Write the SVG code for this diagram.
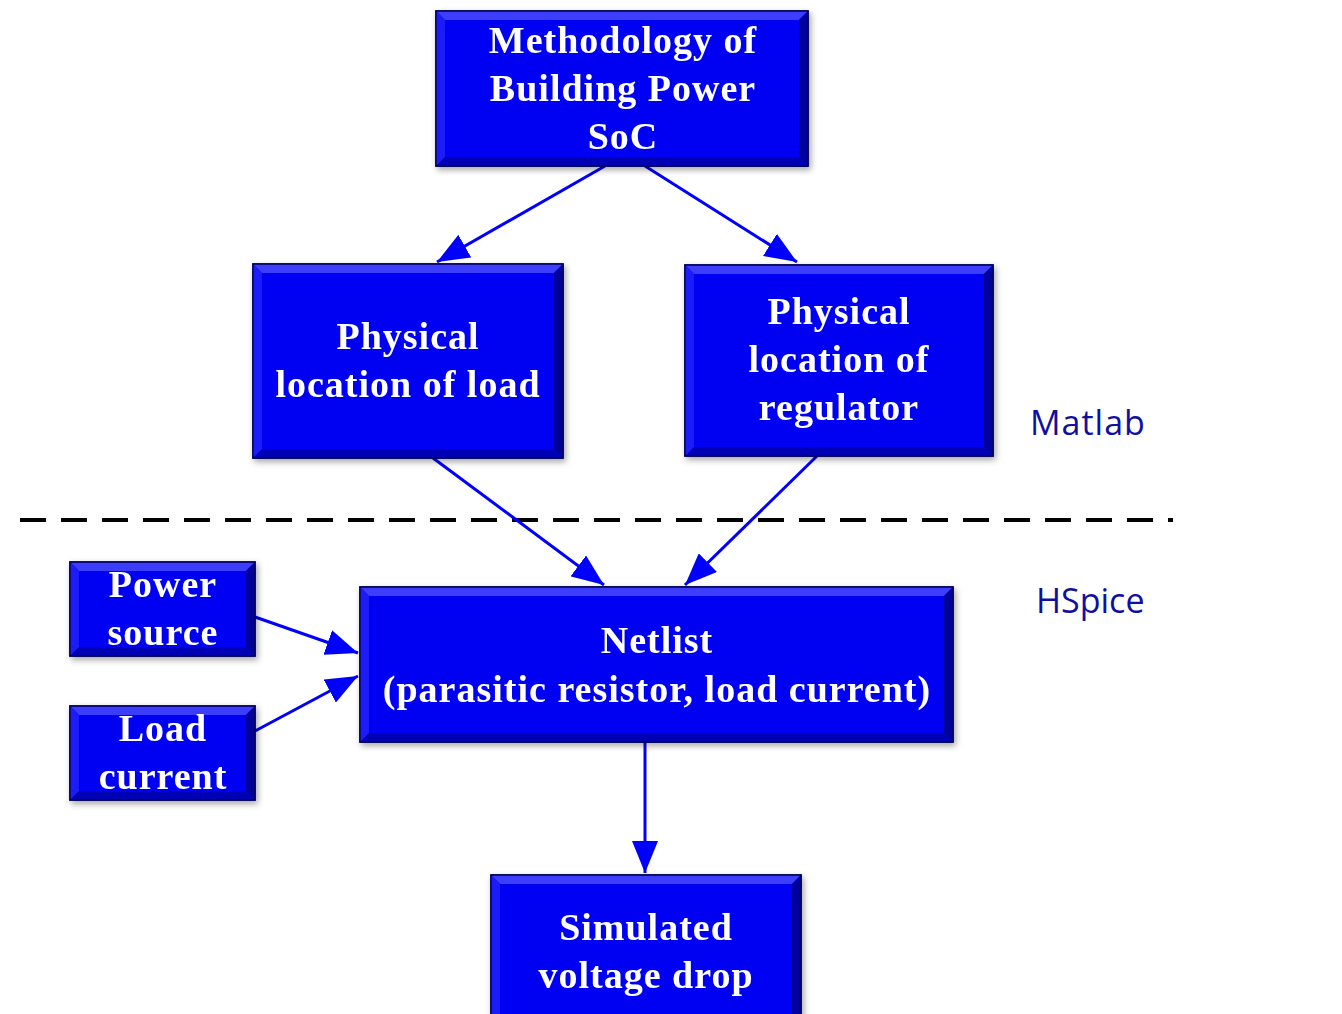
<svg xmlns="http://www.w3.org/2000/svg" width="1342" height="1014" viewBox="0 0 1342 1014">
<defs>
<style>
.bg{fill:#0606f2;stroke:#00005a;stroke-width:1.5}
.bt{fill:#3c3cfc}
.bl{fill:#1c1cfa}
.br{fill:#00009a}
.bb{fill:#0000b4}
.lbl{font-family:"Liberation Serif","Times New Roman",serif;font-weight:bold;font-size:38px;letter-spacing:1px;fill:#ffffff;text-anchor:middle}
.side{font-family:"Open Sans","Noto Sans",sans-serif;font-size:34px;fill:#1010a0}
.conn{stroke:#0000ff;stroke-width:3;fill:none;marker-end:url(#ah)}
</style>
<marker id="ah" markerUnits="userSpaceOnUse" markerWidth="32" markerHeight="26" refX="32" refY="13" orient="auto">
<path d="M0,0 L32,13 L0,26 z" fill="#0000ff"/>
</marker>
<filter id="sh" x="-10%" y="-10%" width="125%" height="130%">
<feDropShadow dx="2" dy="3" stdDeviation="3" flood-color="#000" flood-opacity="0.35"/>
</filter>
</defs>
<rect width="1342" height="1014" fill="#ffffff"/>

<line x1="20" y1="520" x2="1173" y2="520" stroke="#000" stroke-width="4" stroke-dasharray="26,15" stroke-linecap="butt"/>

<g id="connectors">
<line class="conn" x1="605" y1="166" x2="437" y2="262"/>
<line class="conn" x1="645" y1="166" x2="797" y2="262"/>
<line class="conn" x1="433" y1="458" x2="604" y2="585"/>
<line class="conn" x1="817" y1="456" x2="685" y2="585"/>
<line class="conn" x1="255" y1="617" x2="358" y2="653"/>
<line class="conn" x1="255" y1="731" x2="358" y2="676"/>
<line class="conn" x1="645" y1="742" x2="645" y2="873"/>
</g>

<g id="methodology" filter="url(#sh)">
<rect class="bg" x="436" y="11" width="372" height="155"/>
<polygon class="bt" points="436,11 808,11 799,20 445,20"/>
<polygon class="bl" points="436,11 445,20 445,157 436,166"/>
<polygon class="br" points="808,11 808,166 799,157 799,20"/>
<polygon class="bb" points="436,166 808,166 799,157 445,157"/>
<rect x="436" y="11" width="372" height="155" fill="none" stroke="#00005a" stroke-width="1.5"/>
<text class="lbl" x="623" y="53">Methodology of</text>
<text class="lbl" x="623" y="101">Building Power</text>
<text class="lbl" x="623" y="149">SoC</text>
</g>

<g id="load-location" filter="url(#sh)">
<rect class="bg" x="253" y="264" width="310" height="194"/>
<polygon class="bt" points="253,264 563,264 554,273 262,273"/>
<polygon class="bl" points="253,264 262,273 262,449 253,458"/>
<polygon class="br" points="563,264 563,458 554,449 554,273"/>
<polygon class="bb" points="253,458 563,458 554,449 262,449"/>
<rect x="253" y="264" width="310" height="194" fill="none" stroke="#00005a" stroke-width="1.5"/>
<text class="lbl" x="408" y="349">Physical</text>
<text class="lbl" x="408" y="397">location of load</text>
</g>

<g id="regulator-location" filter="url(#sh)">
<rect class="bg" x="685" y="265" width="308" height="191"/>
<polygon class="bt" points="685,265 993,265 984,274 694,274"/>
<polygon class="bl" points="685,265 694,274 694,447 685,456"/>
<polygon class="br" points="993,265 993,456 984,447 984,274"/>
<polygon class="bb" points="685,456 993,456 984,447 694,447"/>
<rect x="685" y="265" width="308" height="191" fill="none" stroke="#00005a" stroke-width="1.5"/>
<text class="lbl" x="839" y="324">Physical</text>
<text class="lbl" x="839" y="372">location of</text>
<text class="lbl" x="839" y="420">regulator</text>
</g>

<g id="power-source" filter="url(#sh)">
<rect class="bg" x="70" y="562" width="185" height="94"/>
<polygon class="bt" points="70,562 255,562 246,571 79,571"/>
<polygon class="bl" points="70,562 79,571 79,647 70,656"/>
<polygon class="br" points="255,562 255,656 246,647 246,571"/>
<polygon class="bb" points="70,656 255,656 246,647 79,647"/>
<rect x="70" y="562" width="185" height="94" fill="none" stroke="#00005a" stroke-width="1.5"/>
<text class="lbl" x="163" y="597">Power</text>
<text class="lbl" x="163" y="645">source</text>
</g>

<g id="load-current" filter="url(#sh)">
<rect class="bg" x="70" y="706" width="185" height="94"/>
<polygon class="bt" points="70,706 255,706 246,715 79,715"/>
<polygon class="bl" points="70,706 79,715 79,791 70,800"/>
<polygon class="br" points="255,706 255,800 246,791 246,715"/>
<polygon class="bb" points="70,800 255,800 246,791 79,791"/>
<rect x="70" y="706" width="185" height="94" fill="none" stroke="#00005a" stroke-width="1.5"/>
<text class="lbl" x="163" y="741">Load</text>
<text class="lbl" x="163" y="789">current</text>
</g>

<g id="netlist" filter="url(#sh)">
<rect class="bg" x="360" y="587" width="593" height="155"/>
<polygon class="bt" points="360,587 953,587 944,596 369,596"/>
<polygon class="bl" points="360,587 369,596 369,733 360,742"/>
<polygon class="br" points="953,587 953,742 944,733 944,596"/>
<polygon class="bb" points="360,742 953,742 944,733 369,733"/>
<rect x="360" y="587" width="593" height="155" fill="none" stroke="#00005a" stroke-width="1.5"/>
<text class="lbl" x="657" y="653">Netlist</text>
<text class="lbl" x="657" y="702">(parasitic resistor, load current)</text>
</g>

<g id="simulated" filter="url(#sh)">
<rect class="bg" x="491" y="875" width="310" height="160"/>
<polygon class="bt" points="491,875 801,875 792,884 500,884"/>
<polygon class="bl" points="491,875 500,884 500,1026 491,1035"/>
<polygon class="br" points="801,875 801,1035 792,1026 792,884"/>
<rect x="491" y="875" width="310" height="160" fill="none" stroke="#00005a" stroke-width="1.5"/>
<text class="lbl" x="646" y="940">Simulated</text>
<text class="lbl" x="646" y="988">voltage drop</text>
</g>

<g id="labels">
<text class="side" x="1030" y="435" letter-spacing="1">Matlab</text>
<text class="side" x="1036" y="613">HSpice</text>
</g>
</svg>
